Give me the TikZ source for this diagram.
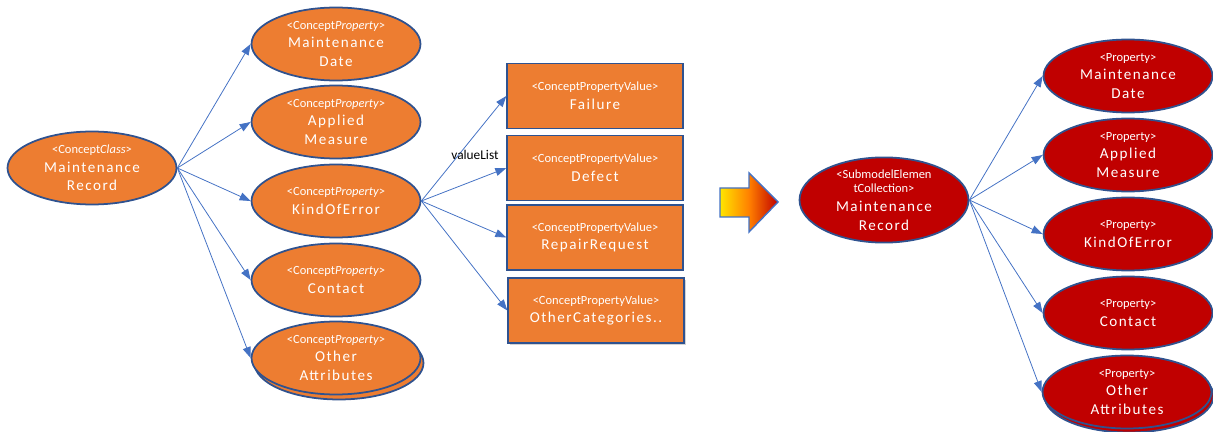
\documentclass[tikz,border=0pt]{standalone}
\usepackage{fontspec}
\setmainfont{Carlito}
\usetikzlibrary{arrows.meta,shapes.geometric,shadows}

\definecolor{conceptfill}{HTML}{ED7D31}
\definecolor{aasfill}{HTML}{C00000}
\definecolor{edgeblue}{HTML}{2F528F}
\definecolor{linkblue}{HTML}{4472C4}

% small stereotype line on top of each element
\newcommand{\stereo}[1]{{\fontsize{7.1}{8.2}\selectfont\addfontfeature{LetterSpace=0}#1}}

\tikzset{
  concept/.style={ellipse,draw=edgeblue,line width=1pt,fill=conceptfill,text=white,
    minimum width=3.38cm,minimum height=1.46cm,inner sep=0pt,align=center,
    font=\fontsize{8.6}{10.6}\selectfont\addfontfeature{LetterSpace=10}},
  aas/.style={concept,fill=aasfill},
  valuebox/.style={rectangle,draw=edgeblue,line width=0.8pt,fill=conceptfill,text=white,
    minimum width=3.52cm,minimum height=1.3cm,inner sep=0pt,align=center,
    font=\fontsize{8.6}{10.6}\selectfont\addfontfeature{LetterSpace=10}},
  link/.style={draw=linkblue,line width=0.45pt,-{Triangle[length=2.2mm,width=1.6mm]}}
}

\begin{document}
\begin{tikzpicture}[x=0.02cm,y=-0.02cm]
\useasboundingbox (0,0) rectangle (1213,432);
% concept class and its properties
\node[concept] (cls) at (92,168) {\stereo{<Concept\textit{Class}>}\\Maintenance\\Record};
\node[concept] (pdate) at (336,44) {\stereo{<Concept\textit{Property}>}\\Maintenance\\Date};
\node[concept] (pmeas) at (336,122) {\stereo{<Concept\textit{Property}>}\\Applied\\Measure};
\node[concept] (perr) at (336,201) {\stereo{<Concept\textit{Property}>}\\KindOfError};
\node[concept] (pcont) at (336,280) {\stereo{<Concept\textit{Property}>}\\Contact};
\node[concept] (pothB) at (339,363) {};
\node[concept] (poth) at (336,358) {\stereo{<Concept\textit{Property}>}\\Other\\Attributes};
\foreach \t in {pdate,pmeas,perr,pcont,poth}
  \draw[link] (cls.east) -- (\t.west);

% value list of KindOfError
\node[valuebox] (vfail) at (595,96) {\stereo{<ConceptPropertyValue>}\\Failure};
\node[valuebox] (vdef) at (595,168) {\stereo{<ConceptPropertyValue>}\\Defect};
\node[valuebox] (vrep) at (595,237.5) {\stereo{<ConceptPropertyValue>}\\RepairRequest};
\node[valuebox,drop shadow={opacity=0.35,shadow xshift=1pt,shadow yshift=-1.2pt}] (voth) at (596,310.5)
  {\stereo{<ConceptPropertyValue>}\\OtherCategories..};
\foreach \t in {vfail,vdef,vrep,voth}
  \draw[link] (perr.east) -- (\t.west);
\node[font=\fontsize{7.6}{9}\selectfont] (vlist) at (475,155) {valueList};

% mapping arrow
\draw[draw=linkblue,line width=0.8pt,left color=yellow!80!orange,right color=aasfill,middle color=orange]
  (720,188) -- (749,188) -- (749,173) -- (778,202) -- (749,232) -- (749,217) -- (720,217) -- cycle;

% submodel element collection and its properties
\node[aas] (coll) at (884,200) {\stereo{<SubmodelElemen}\\[-2.5pt]\stereo{tCollection>}\\Maintenance\\Record};
\node[aas] (rdate) at (1128,76) {\stereo{<Property>}\\Maintenance\\Date};
\node[aas] (rmeas) at (1128,155) {\stereo{<Property>}\\Applied\\Measure};
\node[aas] (rerr) at (1128,234) {\stereo{<Property>}\\KindOfError};
\node[aas] (rcont) at (1128,313) {\stereo{<Property>}\\Contact};
\node[aas] (rothB) at (1129,396) {};
\node[aas] (roth) at (1127,392) {\stereo{<Property>}\\Other\\Attributes};
\foreach \t in {rdate,rmeas,rerr,rcont,roth}
  \draw[link] (coll.east) -- (\t.west);
\end{tikzpicture}
\end{document}
